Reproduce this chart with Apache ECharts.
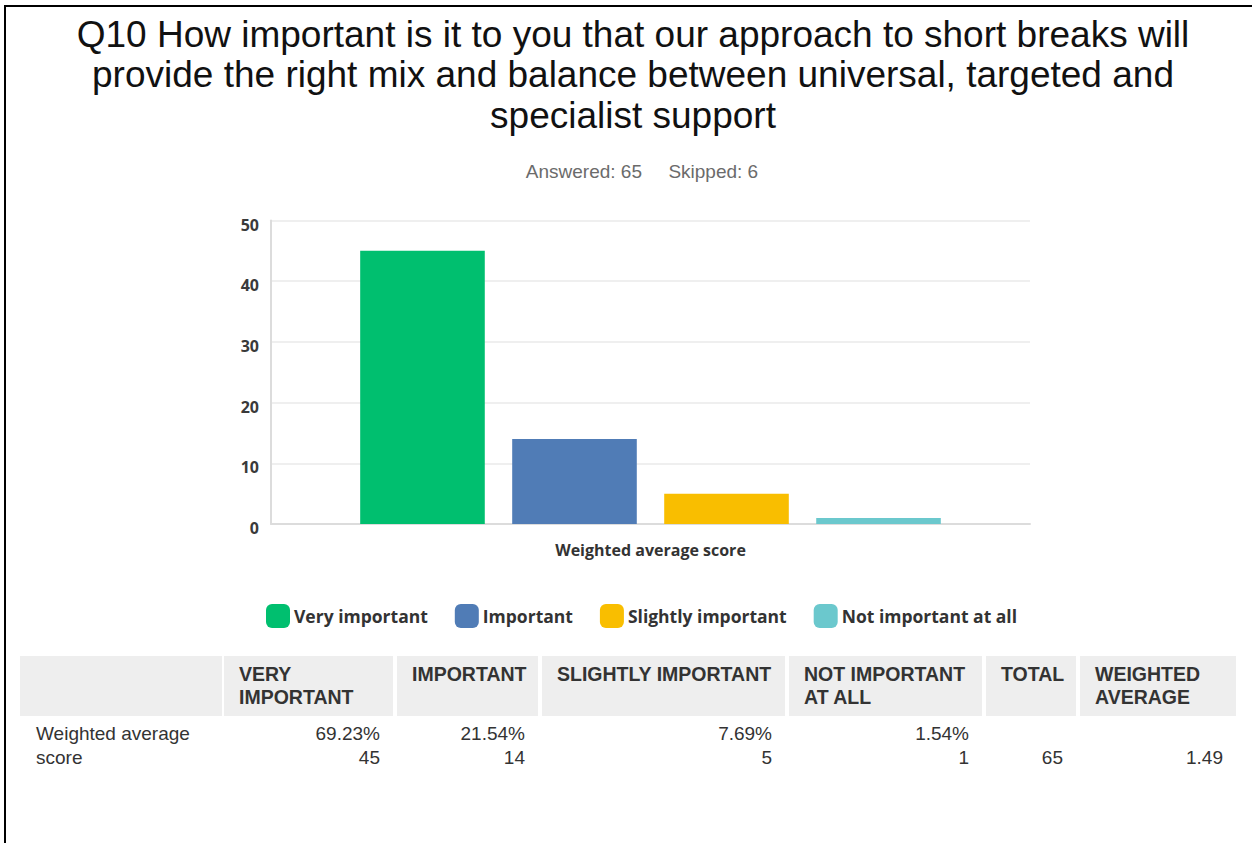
<!DOCTYPE html>
<html>
<head>
<meta charset="utf-8">
<script src="https://cdn.jsdelivr.net/npm/echarts@6/dist/echarts.min.js"></script>
<style>
html,body{margin:0;padding:0;background:#fff;}
#wrap{position:relative;width:1252px;height:843px;overflow:hidden;background:#fff;}
#frameL{position:absolute;left:4px;top:5px;width:2px;height:838px;background:#000;}
#frameT{position:absolute;left:4px;top:5px;width:1248px;height:2px;background:#000;}
#chart{position:absolute;left:0;top:0;width:1252px;height:643px;}
.cell{position:absolute;font-family:"Liberation Sans",Arial,sans-serif;color:#333;font-size:19px;line-height:24px;}
.hbg{position:absolute;background:#eeeeee;top:656px;height:60px;}
.hd{font-weight:bold;color:#333;font-size:19.5px;line-height:23px;}
</style>
</head>
<body>
<div id="wrap">
<div id="chart"></div>
<div id="table"></div>
<div id="frameL"></div>
<div id="frameT"></div>
</div>
<script>
// ---- data ----
const titleText = "Q10 How important is it to you that our approach to short breaks will\nprovide the right mix and balance between universal, targeted and\nspecialist support";
const subText = "Answered: 65     Skipped: 6";
const categories = ["Weighted average score"];
const seriesNames = ["Very important", "Important", "Slightly important", "Not important at all"];
const seriesValues = [45, 14, 5, 1];
const seriesColors = ["#00bf6f", "#507cb6", "#f9be00", "#6bc8cd"];
const tableHeaders = ["", "VERY\nIMPORTANT", "IMPORTANT", "SLIGHTLY IMPORTANT", "NOT IMPORTANT\nAT ALL", "TOTAL", "WEIGHTED\nAVERAGE"];
const rowLabel = "Weighted average\nscore";
const rowPercents = ["69.23%", "21.54%", "7.69%", "1.54%", "", ""];
const rowCounts = ["45", "14", "5", "1", "65", "1.49"];

// ---- chart ----
const chart = echarts.init(document.getElementById('chart'), null, {renderer: 'svg'});
chart.setOption({
  animation: false,
  backgroundColor: 'transparent',
  title: [
    {
      text: titleText, left: 628, top: 9, textAlign: 'center',
      textStyle: {fontFamily: '"Liberation Sans", Arial, sans-serif', fontSize: 37, fontWeight: 'normal', color: '#111', lineHeight: 40.5, align: 'center'}
    },
    {
      text: subText, left: 637, top: 157, textAlign: 'center',
      textStyle: {fontFamily: '"Liberation Sans", Arial, sans-serif', fontSize: 19, fontWeight: 'normal', color: '#6b6b6b'}
    }
  ],
  legend: {
    left: 261, top: 599, itemWidth: 24, itemHeight: 24, itemGap: 27, icon: 'roundRect',
    textStyle: {fontFamily: '"Open Sans", sans-serif', fontWeight: 'bold', fontSize: 17.5, color: '#333', padding: [0, 0, 0, -1]},
    data: seriesNames
  },
  grid: {left: 271, top: 220.5, width: 759, height: 303.5},
  xAxis: {
    type: 'category', data: categories,
    axisLine: {show: true, lineStyle: {color: '#dcdcdc', width: 2}},
    axisTick: {show: false},
    axisLabel: {margin: 18, fontFamily: '"Open Sans", sans-serif', fontWeight: 'bold', fontSize: 16, color: '#333'}
  },
  yAxis: {
    type: 'value', min: 0, max: 50, interval: 10,
    axisLine: {show: true, lineStyle: {color: '#dcdcdc', width: 2}},
    axisTick: {show: false},
    splitLine: {show: true, lineStyle: {color: '#efefef', width: 2}},
    axisLabel: {margin: 12, fontFamily: '"Open Sans", sans-serif', fontWeight: 'bold', fontSize: 16, color: '#3a3a3a', verticalAlign: 'top', padding: [-4, 0, 0, 0]}
  },
  series: seriesNames.map((n, i) => ({
    name: n, type: 'bar',
    data: categories.map(() => seriesValues[i]),
    itemStyle: {color: seriesColors[i]},
    barGap: '22%', barCategoryGap: '23.5%'
  }))
});

// ---- table ----
const colEdges = [[20, 222], [224, 393], [397, 538], [542, 785], [789, 982], [986, 1076], [1080, 1236]];
const tbl = document.getElementById('table');
colEdges.forEach((c, i) => {
  const bg = document.createElement('div');
  bg.className = 'hbg';
  bg.style.left = c[0] + 'px';
  bg.style.width = (c[1] - c[0]) + 'px';
  tbl.appendChild(bg);
  if (tableHeaders[i]) {
    const h = document.createElement('div');
    h.className = 'cell hd';
    h.style.left = (c[0] + 15) + 'px';
    h.style.top = '663px';
    h.style.whiteSpace = 'pre';
    h.textContent = tableHeaders[i];
    tbl.appendChild(h);
  }
});
const lab = document.createElement('div');
lab.className = 'cell';
lab.style.left = '36px';
lab.style.top = '722px';
lab.style.whiteSpace = 'pre';
lab.textContent = rowLabel;
tbl.appendChild(lab);
for (let i = 0; i < 6; i++) {
  const c = colEdges[i + 1];
  const d = document.createElement('div');
  d.className = 'cell';
  d.style.left = c[0] + 'px';
  d.style.width = (c[1] - c[0] - 13) + 'px';
  d.style.top = '722px';
  d.style.textAlign = 'right';
  d.style.whiteSpace = 'pre';
  d.textContent = (rowPercents[i] || ' ') + '\n' + rowCounts[i];
  tbl.appendChild(d);
}
</script>
</body>
</html>
